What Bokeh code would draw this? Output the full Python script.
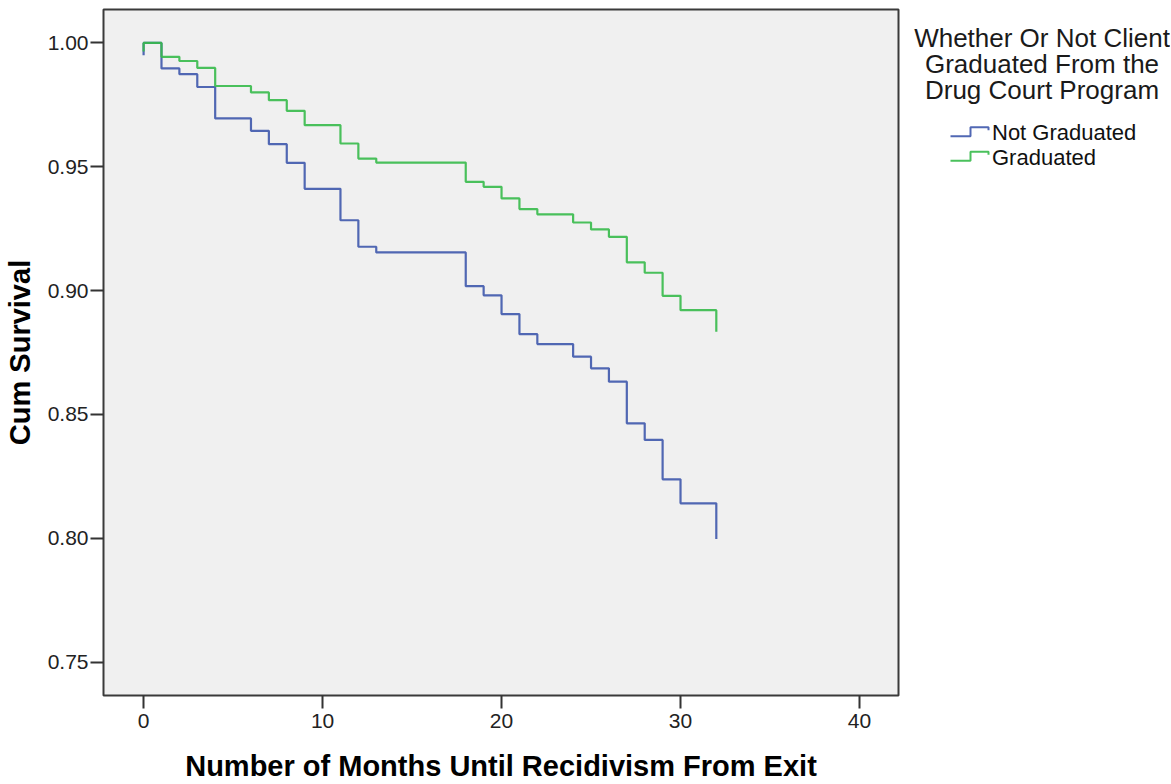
import numpy as np
from bokeh.plotting import figure
from bokeh.models import Range1d, FixedTicker, NumeralTickFormatter
from bokeh.layouts import row
from bokeh.embed import file_html
from bokeh.resources import INLINE
from bokeh.core.properties import value

# ---- data ----
months_not_grad = [0, 0, 1, 2, 3, 4, 6, 7, 8, 9, 11, 12, 13, 18, 19, 20, 21, 22, 24, 25, 26, 27, 28, 29, 30, 32]
surv_not_grad = [0.9950, 1.0, 0.9897, 0.9874, 0.9822, 0.9695, 0.9645, 0.9591, 0.9516, 0.9411, 0.9284,
                 0.9177, 0.9154, 0.9018, 0.8981, 0.8905, 0.8824, 0.8784, 0.8733, 0.8686, 0.8632,
                 0.8464, 0.8397, 0.8238, 0.8141, 0.7997]
months_grad = [0, 0, 1, 2, 3, 4, 6, 7, 8, 9, 11, 12, 13, 18, 19, 20, 21, 22, 24, 25, 26, 27, 28, 29, 30, 32]
surv_grad = [0.9965, 1.0, 0.9944, 0.9927, 0.9899, 0.9826, 0.9800, 0.9769, 0.9726, 0.9668, 0.9594,
             0.9533, 0.9517, 0.9439, 0.9419, 0.9372, 0.9329, 0.9308, 0.9275, 0.9247, 0.9217,
             0.9114, 0.9072, 0.8979, 0.8921, 0.8834]
x_ticks = [0, 10, 20, 30, 40]
y_ticks = [0.75, 0.80, 0.85, 0.90, 0.95, 1.00]
legend_title = ["Whether Or Not Client", "Graduated From the", "Drug Court Program"]
series_names = ["Not Graduated", "Graduated"]
series_colors = ["#3E58AC", "#36BA4A"]

FONT = "Liberation Sans"

MAIN_W, LEG_W, H = 900, 270, 784
B_TOP, B_BOT = 9, 88

p = figure(width=MAIN_W, height=H, output_backend="svg", toolbar_location=None,
           x_range=Range1d(-2.24, 42.18), y_range=Range1d(0.7365, 1.0135),
           min_border_left=103, min_border_right=2, min_border_top=B_TOP, min_border_bottom=B_BOT)
p.background_fill_color = "#F0F0F0"
p.border_fill_color = "white"
p.grid.visible = False
p.outline_line_color = "#3a3a3a"
p.outline_line_width = 2

p.step(months_not_grad, surv_not_grad, mode="after", line_color=series_colors[0], line_width=2.2, line_alpha=0.9)
p.step(months_grad, surv_grad, mode="after", line_color=series_colors[1], line_width=2.2, line_alpha=0.9)

p.xaxis.ticker = FixedTicker(ticks=x_ticks, minor_ticks=[])
p.yaxis.ticker = FixedTicker(ticks=y_ticks, minor_ticks=[])
p.yaxis.formatter = NumeralTickFormatter(format="0.00")
p.xaxis.formatter = NumeralTickFormatter(format="0")

for ax in (p.xaxis[0], p.yaxis[0]):
    ax.axis_line_color = None
    ax.major_tick_line_color = "#333333"
    ax.major_tick_line_width = 2
    ax.major_tick_out = 13
    ax.major_tick_in = 0
    ax.minor_tick_line_color = None
    ax.major_label_text_font = FONT
    ax.major_label_text_font_size = "21px"
    ax.major_label_text_color = "#222222"
    ax.axis_label_text_font = FONT
    ax.axis_label_text_font_style = "bold"
    ax.axis_label_text_font_size = "29px"
    ax.axis_label_text_color = "#000000"

p.xaxis.axis_label = "Number of Months Until Recidivism From Exit"
p.yaxis.axis_label = "Cum Survival"
p.xaxis.major_label_standoff = 5
p.yaxis.major_label_standoff = 2
p.xaxis.axis_label_standoff = 19
p.yaxis.axis_label_standoff = 9

# ---- legend panel (positions in page pixels; frame aligned with the main frame rows) ----
X0 = MAIN_W
leg = figure(width=LEG_W, height=H, output_backend="svg", toolbar_location=None,
             x_range=Range1d(X0, X0 + LEG_W), y_range=Range1d(H - B_BOT, B_TOP),
             x_axis_location=None, y_axis_location=None,
             min_border_left=0, min_border_right=0, min_border_top=B_TOP, min_border_bottom=B_BOT)
leg.outline_line_color = None
leg.grid.visible = False
leg.background_fill_color = "white"
leg.border_fill_color = "white"

leg.text(x=[1041.5, 1041.5, 1041.5], y=[37.5, 63.5, 90.0], text=legend_title,
         text_font=value(FONT), text_font_size="26px", text_align="center",
         text_baseline="middle", text_color="#1a1a1a")

for i, (name, col) in enumerate(zip(series_names, series_colors)):
    b = 136 + 24.5 * i
    t = 127 + 24.5 * i
    leg.line(x=[950, 970, 970, 988, 988], y=[b, b, t, t, t + 3], line_color=col, line_width=2, line_alpha=0.9)
    leg.text(x=[991.5], y=[132.5 + 24.5 * i], text=[name], text_font=value(FONT), text_font_size="22px",
             text_align="left", text_baseline="middle", text_color="#111111")

layout = row(p, leg)
open("out.html", "w").write(file_html(layout, INLINE))
